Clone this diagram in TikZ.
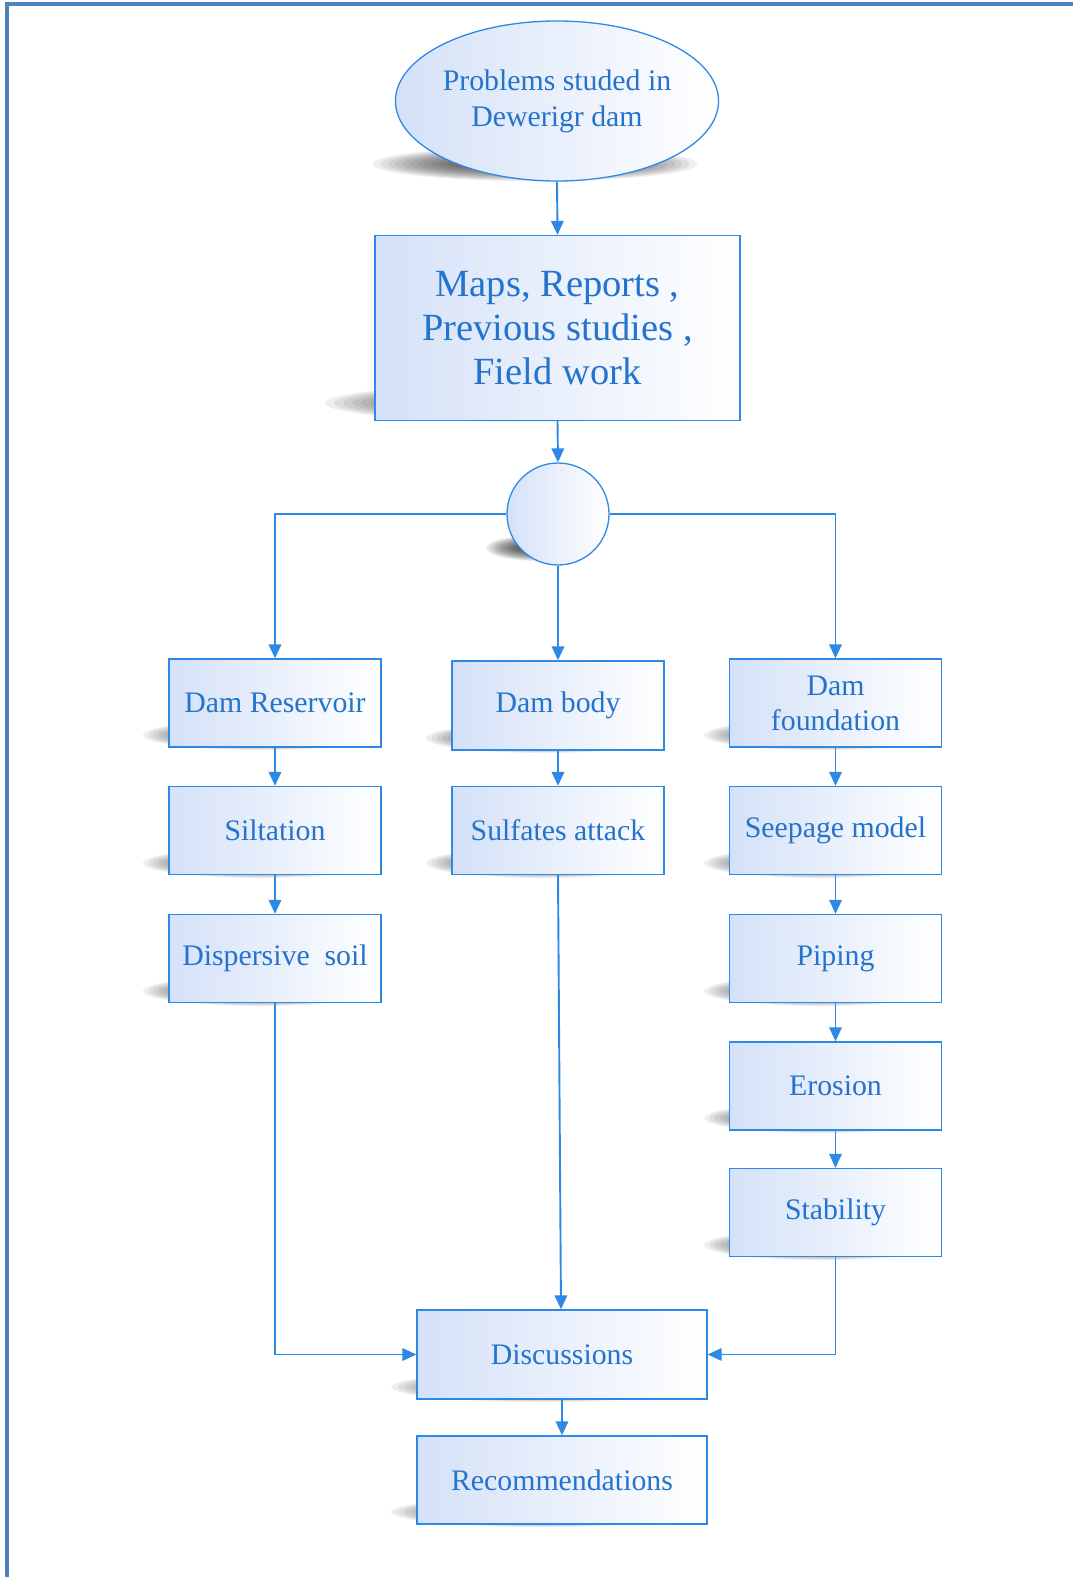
\documentclass[tikz,border=0pt]{standalone}
\usepackage{fontspec}
\setmainfont{Liberation Serif}
\usetikzlibrary{arrows.meta,shapes.geometric}

\definecolor{frameblue}{RGB}{79,129,189}
\definecolor{lineblue}{RGB}{46,137,230}
\definecolor{textblue}{RGB}{36,115,205}
\definecolor{shadeblue}{RGB}{212,225,248}

\tikzset{
  flowbox/.style={draw=lineblue, line width=1.3pt, left color=shadeblue, right color=white,
    text=textblue, align=center, inner sep=0pt, minimum width=212pt, minimum height=88pt,
    font=\fontsize{29.8}{35}\selectfont},
  widebox/.style={flowbox, minimum width=290pt},
  link/.style={draw=lineblue, line width=1.9pt, -{Triangle[length=14pt,width=12.5pt]}},
}

% soft shadow: many layered translucent ellipses
\newcommand\softshade[4]{%
  \foreach \k in {0,...,15}{%
    \pgfmathsetmacro\ra{#3*(1-0.045*\k)}%
    \pgfmathsetmacro\rb{#4*(1-0.055*\k)}%
    \fill[black,opacity=0.065] (#1,#2) ellipse [x radius=\ra pt, y radius=\rb pt];
  }}

\begin{document}
\begin{tikzpicture}[x=1pt,y=-1pt]
\useasboundingbox (0,0) rectangle (1073,1577);

% page frame
\draw[frameblue, line width=4pt] (5,4) -- (1073,4);
\draw[frameblue, line width=4pt] (7,2) -- (7,1577);

% shadows
\softshade{535}{164}{162}{17}
\softshade{527}{403}{202}{19}
\softshade{540}{548}{54}{13}
\foreach \cx/\cy in {169/747, 452/750, 730/747, 169/875, 452/875, 730/875, 169/1003, 730/1003, 730/1130, 730/1257}{
  \softshade{\cx+92}{\cy-12}{118}{15}
}
\softshade{417+126}{1399-12}{152}{15}
\softshade{417+126}{1524-12}{152}{15}

% nodes
\node[ellipse, draw=lineblue, line width=1.3pt, left color=shadeblue, right color=white,
  text=textblue, align=center, inner sep=0pt, minimum width=318pt, minimum height=160pt,
  font=\fontsize{29.8}{36}\selectfont] (prob) at (557,101) {Problems studed in\\Dewerigr dam};
\node[flowbox, minimum width=365pt, minimum height=185pt, font=\fontsize{38.5}{44}\selectfont]
  (maps) at (557.5,328) {Maps, Reports ,\\ Previous studies ,\\ Field work};
\node[circle, draw=lineblue, line width=1.3pt, left color=shadeblue, right color=white,
  minimum size=102pt, inner sep=0pt] (hub) at (558,514) {};

\node[flowbox] (res)   at (275,703)     {Dam Reservoir};
\node[flowbox, minimum height=89pt] (body) at (558,705.5) {Dam body};
\node[flowbox] (found) at (835.5,703)   {Dam\\foundation};

\node[flowbox] (silt)  at (275,830.5)   {Siltation};
\node[flowbox] (sulf)  at (558,830.5)   {Sulfates attack};
\node[flowbox] (seep)  at (835.5,830.5) {Seepage model};

\node[flowbox] (disp)  at (275,958.5)   {Dispersive~~soil};
\node[flowbox] (pipe)  at (835.5,958.5) {Piping};
\node[flowbox] (eros)  at (835.5,1086)  {Erosion};
\node[flowbox] (stab)  at (835.5,1212.5){Stability};

\node[widebox, minimum height=89pt] (disc) at (562,1354.5) {Discussions};
\node[widebox] (recs)  at (562,1480)    {Recommendations};

% connectors
\draw[link] (prob.south) -- (maps.north);
\draw[link] (maps.south) -- (hub.north);
\draw[link] (hub.west) -| (res.north);
\draw[link] (hub.south) -- (body.north);
\draw[link] (hub.east) -| (found.north);

\draw[link] (res.south) -- (silt.north);
\draw[link] (silt.south) -- (disp.north);
\draw[link] (body.south) -- (sulf.north);
\draw[link] (found.south) -- (seep.north);
\draw[link] (seep.south) -- (pipe.north);
\draw[link] (pipe.south) -- (eros.north);
\draw[link] (eros.south) -- (stab.north);

\draw[link] (sulf.south) -- ([xshift=-1pt]disc.north);
\draw[link] (disp.south) |- (disc.west);
\draw[link] (stab.south) |- (disc.east);
\draw[link] (disc.south) -- (recs.north);
\end{tikzpicture}
\end{document}
